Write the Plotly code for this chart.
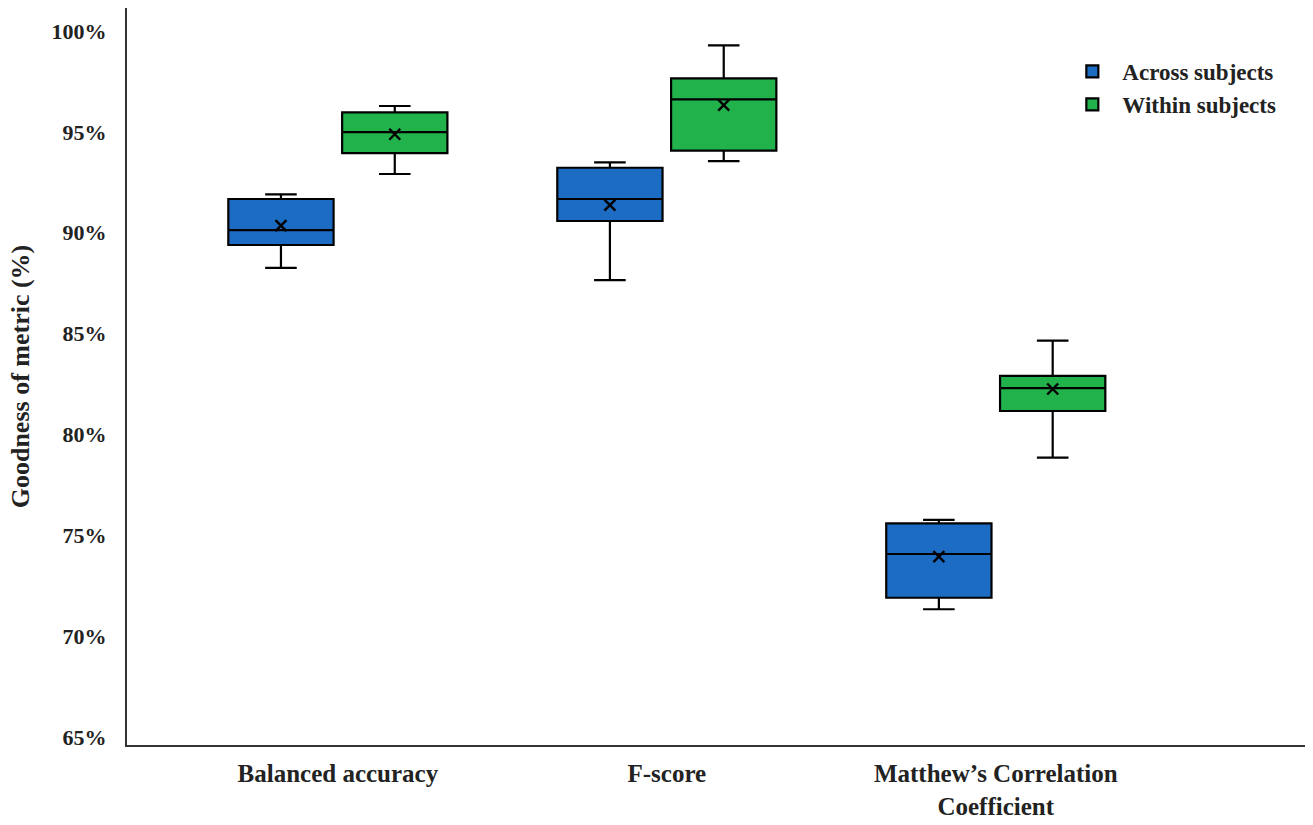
import plotly.graph_objects as go

categories = ["Balanced accuracy", "F-score", "Matthew\u2019s Correlation<br>Coefficient"]
series_names = ["Across subjects", "Within subjects"]
colors = ["#1c6cc4", "#22b24c"]

# values in %
across_lower = [88.26, 87.65, 71.33]
across_q1 = [89.39, 90.58, 71.90]
across_median = [90.13, 91.67, 74.07]
across_q3 = [91.67, 93.22, 75.59]
across_upper = [91.90, 93.49, 75.76]
across_mean = [90.35, 91.37, 73.94]

within_lower = [92.91, 93.55, 78.85]
within_q1 = [93.94, 94.07, 81.16]
within_median = [94.99, 96.61, 82.29]
within_q3 = [95.97, 97.65, 82.90]
within_upper = [96.28, 99.29, 84.65]
within_mean = [94.88, 96.32, 82.25]

y_ticks = [65, 70, 75, 80, 85, 90, 95, 100]

offset = 0.173
box_width = 0.32
cat_pos = list(range(len(categories)))

series = [
    (series_names[0], colors[0], -offset, across_lower, across_q1, across_median, across_q3, across_upper, across_mean),
    (series_names[1], colors[1], offset, within_lower, within_q1, within_median, within_q3, within_upper, within_mean),
]

fig = go.Figure()
for name, col, off, lo, q1, med, q3, up, mean in series:
    xs = [p + off for p in cat_pos]
    fig.add_trace(go.Box(
        name=name, x=xs, q1=q1, median=med, q3=q3,
        lowerfence=lo, upperfence=up,
        width=box_width, whiskerwidth=0.3,
        fillcolor=col, line=dict(color="black", width=2.2),
        boxpoints=False, showlegend=True,
    ))
for name, col, off, lo, q1, med, q3, up, mean in series:
    xs = [p + off for p in cat_pos]
    fig.add_trace(go.Scatter(
        x=xs, y=mean, mode="markers", showlegend=False,
        marker=dict(symbol="x-thin", size=11, line=dict(color="black", width=2.4)),
        hoverinfo="skip",
    ))

font_family = "Liberation Serif, Times New Roman, serif"
fig.update_layout(
    width=1313, height=825,
    margin=dict(l=127, r=8, t=8, b=80),
    plot_bgcolor="white", paper_bgcolor="white",
    font=dict(family=font_family, size=22, color="#222", weight="bold"),
    boxmode="overlay",
    legend=dict(
        x=0.794, y=0.943, xanchor="left", yanchor="top",
        font=dict(family=font_family, size=23, color="#222", weight="bold"),
        bgcolor="rgba(0,0,0,0)", tracegroupgap=0, itemwidth=50,
    ),
    xaxis=dict(
        range=[-0.641, 2.94],
        tickmode="array", tickvals=cat_pos, ticktext=categories,
        showline=True, linecolor="#333", linewidth=2,
        showgrid=False, zeroline=False, ticks="",
        ticklabelstandoff=5, automargin=False,
        tickfont=dict(size=25, family=font_family, weight="bold", color="#222"),
    ),
    yaxis=dict(
        range=[64.6, 101.14],
        tickmode="array", tickvals=y_ticks,
        ticktext=[f"{v}%" for v in y_ticks],
        showline=True, linecolor="#333", linewidth=2,
        showgrid=False, zeroline=False, ticks="",
        ticklabelstandoff=14, automargin=False,
        tickfont=dict(size=22, family=font_family, weight="bold", color="#222"),
        title=dict(text="Goodness of metric (%)", standoff=14,
                   font=dict(size=26, family=font_family, weight="bold", color="#222")),
    ),
)

fig.write_html("out.html")
